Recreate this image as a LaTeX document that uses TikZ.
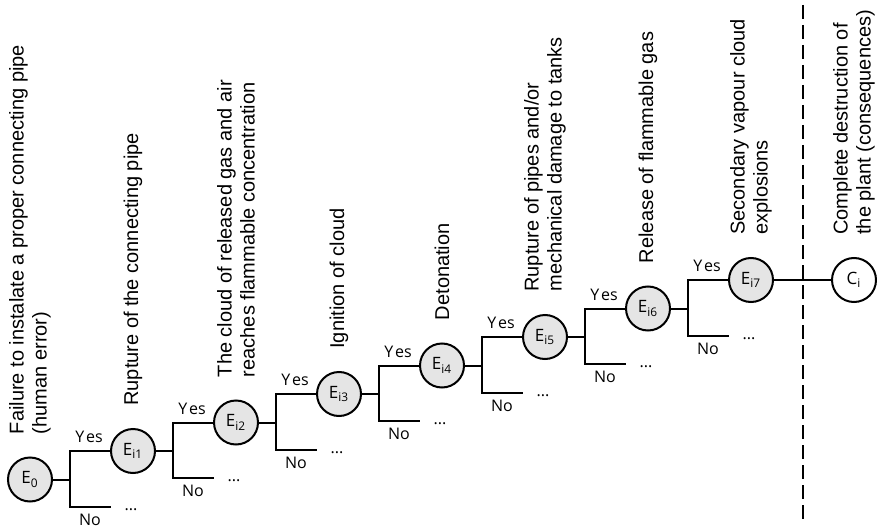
\documentclass[tikz,border=0pt]{standalone}
\usepackage{fontspec}
\setmainfont{Liberation Sans}
\newfontfamily\evfont{Open Sans}
\usepackage{tikz}
\definecolor{evgray}{RGB}{229,229,229}

\tikzset{
  event/.style={circle, draw, line width=1pt, fill=evgray, minimum size=22pt,
    inner sep=0pt, font=\evfont\fontsize{8.5}{10}\selectfont},
  desc/.style={rotate=90, anchor=west, align=left, inner sep=0pt,
    font=\fontsize{10}{11.5}\selectfont},
  yn/.style={inner sep=0pt, font=\evfont\fontsize{8}{9}\selectfont},
  conn/.style={line width=1pt},
  sep/.style={line width=1.4pt, dash pattern=on 7pt off 3pt},
}

\begin{document}
\begin{tikzpicture}[x=0.5pt, y=0.5pt]
    \useasboundingbox (0,0) rectangle (877,531);

    % --- events ---
    \node[event] (E0) at (30,51.5)   {E\textsubscript{0}};
    \node[event] (E1) at (133,80)    {E\textsubscript{i1}};
    \node[event] (E2) at (236,108.5) {E\textsubscript{i2}};
    \node[event] (E3) at (339,137)   {E\textsubscript{i3}};
    \node[event] (E4) at (442,165.5) {E\textsubscript{i4}};
    \node[event] (E5) at (545,194)   {E\textsubscript{i5}};
    \node[event] (E6) at (648,222.5) {E\textsubscript{i6}};
    \node[event] (E7) at (751,251)   {E\textsubscript{i7}};
    \node[event, fill=white] (C) at (854,251) {C\textsubscript{i}};

    % --- descriptions ---
    \node[desc] (tE0) at ([yshift=11pt]E0.north) {Failure to instalate a proper connecting pipe\\(human error)};
    \node[desc] (tE1) at ([yshift=11pt]E1.north) {Rupture of the connecting pipe};
    \node[desc] (tE2) at ([yshift=11pt]E2.north) {The cloud of released gas and air\\reaches flammable concentration};
    \node[desc] (tE3) at ([yshift=11pt]E3.north) {Ignition of cloud};
    \node[desc] (tE4) at ([yshift=11pt]E4.north) {Detonation};
    \node[desc] (tE5) at ([yshift=11pt]E5.north) {Rupture of pipes and/or\\mechanical damage to tanks};
    \node[desc] (tE6) at ([yshift=11pt]E6.north) {Release of flammable gas};
    \node[desc] (tE7) at ([yshift=11pt]E7.north) {Secondary vapour cloud\\explosions};
    \node[desc] (tC)  at ([yshift=11pt]C.north)  {Complete destruction of\\the plant (consequences)};

    % --- branches ---
    \coordinate (b0) at (70,51.5);   \coordinate (n0) at (111,24.5);
    \draw[conn] (E0) -- (b0) (E1) -| (b0 |- n0) -- (n0);
    \node[yn] (y0) at (89,94)    {Y\kern0.12em es};
    \node[yn] (no0) at (90,11.5) {No};
    \node[yn] (d0) at (131,21.5) {...};

    \coordinate (b1) at (173,80);    \coordinate (n1) at (214,53);
    \draw[conn] (E1) -- (b1) (E2) -| (b1 |- n1) -- (n1);
    \node[yn] (y1) at (192,122.5) {Y\kern0.12em es};
    \node[yn] (no1) at (193,40)   {No};
    \node[yn] (d1) at (234,50)    {...};

    \coordinate (b2) at (276,108.5); \coordinate (n2) at (317,81.5);
    \draw[conn] (E2) -- (b2) (E3) -| (b2 |- n2) -- (n2);
    \node[yn] (y2) at (295,151)   {Y\kern0.12em es};
    \node[yn] (no2) at (296,68.5) {No};
    \node[yn] (d2) at (337,78.5)  {...};

    \coordinate (b3) at (379,137);   \coordinate (n3) at (420,110);
    \draw[conn] (E3) -- (b3) (E4) -| (b3 |- n3) -- (n3);
    \node[yn] (y3) at (398,179.5) {Y\kern0.12em es};
    \node[yn] (no3) at (399,97)   {No};
    \node[yn] (d3) at (440,107)   {...};

    \coordinate (b4) at (482,165.5); \coordinate (n4) at (523,138.5);
    \draw[conn] (E4) -- (b4) (E5) -| (b4 |- n4) -- (n4);
    \node[yn] (y4) at (501,208)    {Y\kern0.12em es};
    \node[yn] (no4) at (502,125.5) {No};
    \node[yn] (d4) at (543,135.5)  {...};

    \coordinate (b5) at (585,194);   \coordinate (n5) at (626,167);
    \draw[conn] (E5) -- (b5) (E6) -| (b5 |- n5) -- (n5);
    \node[yn] (y5) at (604,236.5) {Y\kern0.12em es};
    \node[yn] (no5) at (605,154)  {No};
    \node[yn] (d5) at (646,164)   {...};

    \coordinate (b6) at (688,222.5); \coordinate (n6) at (729,195.5);
    \draw[conn] (E6) -- (b6) (E7) -| (b6 |- n6) -- (n6);
    \node[yn] (y6) at (707,265)    {Y\kern0.12em es};
    \node[yn] (no6) at (708,182.5) {No};
    \node[yn] (d6) at (749,192.5)  {...};

    % --- consequence ---
    \draw[conn] (E7) -- (C);
    \coordinate (stop) at (803,526);
    \coordinate (sbot) at (803,6);
    \draw[sep] (stop) -- (sbot);
\end{tikzpicture}
\end{document}
